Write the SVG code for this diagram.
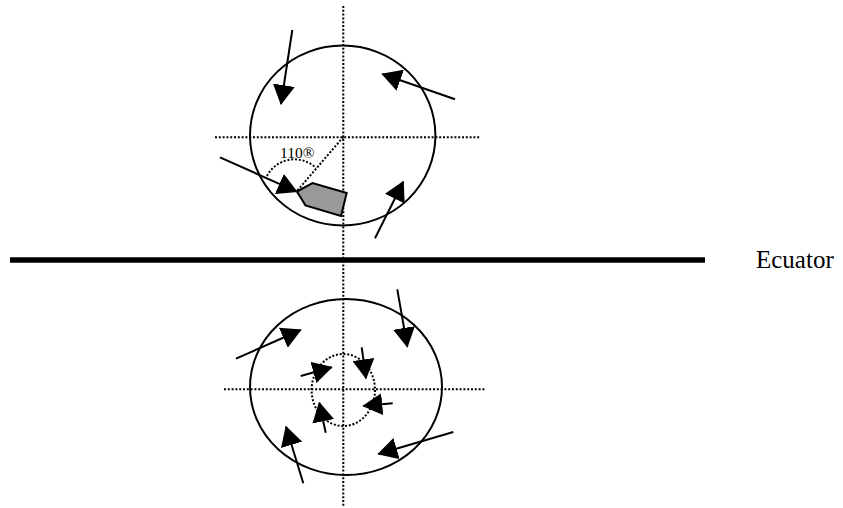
<svg xmlns="http://www.w3.org/2000/svg" width="843" height="508" viewBox="0 0 843 508">
<style>
.c{fill:none;stroke:#000;stroke-width:2}
.d{fill:none;stroke:#000;stroke-width:2;stroke-dasharray:2 1.8}
.a{fill:none;stroke:#000;stroke-width:2;marker-end:url(#ah)}
.t{font-family:"Liberation Serif","Times New Roman",serif;fill:#000}
</style>
<defs>
<marker id="ah" markerUnits="userSpaceOnUse" markerWidth="20" markerHeight="22" refX="19" refY="11" orient="auto" viewBox="0 0 20 22">
<path d="M0,0 L20,11 L0,22 z" fill="#000"/>
</marker>
</defs>
<rect width="843" height="508" fill="#fff"/>
<g id="axes">
<line class="d" x1="343.3" y1="6" x2="343.3" y2="506"/>
<line class="d" x1="215" y1="137.3" x2="481" y2="137.3"/>
<line class="d" x1="224" y1="389.3" x2="485" y2="389.3"/>
</g>
<g id="equator">
<line x1="10" y1="260" x2="705" y2="260" stroke="#000" stroke-width="5.5"/>
<text class="t" x="756" y="268.3" font-size="25">Ecuator</text>
</g>
<g id="north">
<ellipse class="c" cx="342.7" cy="135.5" rx="92.7" ry="90"/>
<line class="d" x1="343.3" y1="137" x2="297" y2="191"/>
<path class="d" d="M267,176 A31,31 0 0 1 316,168"/>
<text class="t" x="280" y="158" font-size="15.5">110®</text>
<polygon id="ship" points="297,191.5 312.5,183 346.7,193 341,216 305.5,205.5" fill="#999" stroke="#000" stroke-width="2"/>
</g>
<g id="south">
<ellipse class="c" cx="346" cy="387" rx="96" ry="88"/>
<ellipse class="d" cx="343.3" cy="390" rx="31.7" ry="36"/>
</g>
<g id="connectors">
<line class="a" x1="292.3" y1="30" x2="281" y2="104"/>
<line class="a" x1="455" y1="99.3" x2="382.3" y2="74"/>
<line class="a" x1="220" y1="157.3" x2="296.7" y2="191.7"/>
<line class="a" x1="375" y1="238.3" x2="403.3" y2="181.7"/>
<line class="a" x1="236" y1="358.7" x2="300.7" y2="330"/>
<line class="a" x1="397.3" y1="289.3" x2="407.3" y2="346.7"/>
<line class="a" x1="453.3" y1="432" x2="378.3" y2="454"/>
<line class="a" x1="303.3" y1="483.3" x2="286" y2="426.7"/>
<line class="a" x1="300.7" y1="376" x2="331.7" y2="367.3"/>
<line class="a" x1="361.7" y1="347.3" x2="366" y2="378.3"/>
<line class="a" x1="392.7" y1="403.3" x2="363.3" y2="406"/>
<line class="a" x1="325.7" y1="432.7" x2="319.3" y2="402.7"/>
</g>
</svg>
